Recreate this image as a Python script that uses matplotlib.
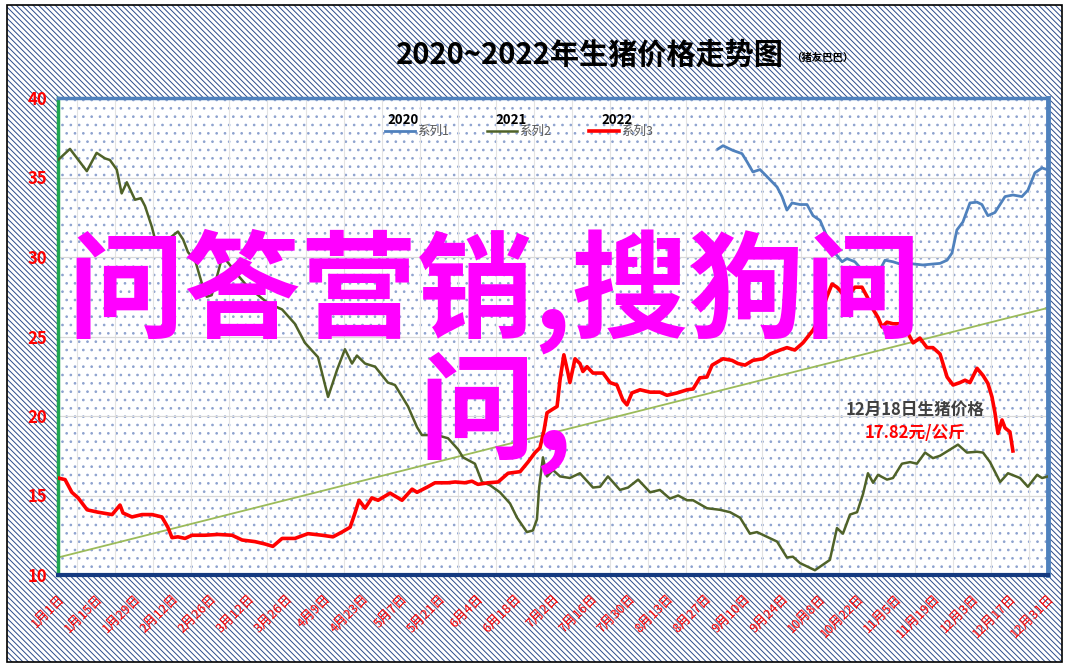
import numpy as np
import matplotlib.pyplot as plt
from matplotlib.patches import Rectangle

plt.rcParams['font.family'] = ['Noto Sans CJK SC', 'DejaVu Sans']
plt.rcParams['hatch.linewidth'] = 0.7

# x = days since 1月1日, y = 生猪价格 (元/公斤)
days_2020 = [242.7, 244.5, 248.2, 251.5, 253.3, 255.5, 258.1, 261.0, 264.4, 266.2, 268.0, 269.9,
             272.8, 275.4, 277.6, 280.2, 282.7, 285.7, 288.3, 290.1, 293.0, 295.6, 298.6, 302.2,
             304.1, 307.0, 310.7, 312.5, 318.0, 324.3, 326.9, 328.7, 330.5, 332.7, 335.3, 337.9,
             339.7, 341.9, 344.5, 348.2, 351.1, 354.4, 356.6, 359.2, 361.8, 363.6]
price_2020 = [36.8, 37.0, 36.7, 36.5, 36.0, 35.35, 35.5, 35.0, 34.4, 33.8, 32.95, 33.4,
              33.3, 33.3, 32.6, 32.3, 31.3, 30.25, 29.7, 29.9, 29.7, 29.2, 29.0, 29.2,
              29.8, 29.7, 29.5, 29.6, 29.5, 29.6, 29.8, 30.25, 31.7, 32.2, 33.4, 33.45,
              33.3, 32.6, 32.8, 33.8, 33.9, 33.8, 34.2, 35.3, 35.6, 35.5]

days_2021 = [0, 4.4, 10.6, 14.2, 17.3, 19.1, 21.6, 23.4, 25.3, 28.3, 30.5, 32.0, 34.5, 35.7,
             40.4, 44.1, 46.0, 47.8, 50.4, 52.8, 54.7, 56.5, 58.8, 60.2, 61.8, 66.9, 69.9, 77.2,
             82.4, 87.1, 90.8, 95.6, 99.3, 102.6, 105.5, 108.1, 109.9, 112.9, 116.6, 121.3,
             123.9, 128.7, 132.0, 133.8, 139.3, 143.4, 147.1, 148.9, 153.3, 155.9, 158.8,
             162.5, 166.2, 168.8, 172.4, 174.6, 176.1, 176.9, 178.3, 179.8, 182.0, 184.6,
             188.2, 191.9, 196.7, 199.3, 202.2, 206.6, 209.6, 213.3, 217.7, 221.3, 225.0,
             228.0, 231.3, 233.5, 238.6, 243.4, 247.1, 250.8, 254.4, 257.0, 260.7, 264.4,
             268.0, 270.2, 272.8, 278.3, 283.8, 286.4, 288.6, 291.2, 293.8, 296.0, 297.8,
             299.7, 301.5, 304.8, 307.0, 310.3, 313.3, 315.8, 318.8, 321.7, 324.3, 330.9,
             334.2, 337.9, 340.1, 342.7, 346.4, 349.3, 353.7, 356.6, 360.0, 361.8, 364.0]
price_2021 = [36.1, 36.8, 35.4, 36.55, 36.2, 36.1, 35.5, 34.0, 34.7, 33.6, 33.7, 33.2, 31.9, 31.1,
              31.1, 31.6, 31.1, 30.3, 29.8, 28.4, 27.5, 27.6, 29.0, 29.9, 29.8, 28.7, 28.1, 27.1,
              26.7, 25.8, 24.6, 23.7, 21.2, 22.9, 24.2, 23.3, 23.8, 23.3, 23.1, 22.1,
              21.95, 20.6, 19.3, 18.8, 18.8, 18.6, 17.9, 17.4, 17.0, 15.85, 15.65,
              15.2, 14.5, 13.6, 12.7, 12.8, 13.5, 15.5, 17.4, 16.2, 16.6, 16.2,
              16.1, 16.4, 15.5, 15.55, 16.2, 15.35, 15.5, 16.0, 15.2, 15.35, 14.8,
              15.0, 14.7, 14.7, 14.2, 14.1, 13.95, 13.6, 12.6, 12.7, 12.4, 12.1,
              11.1, 11.15, 10.75, 10.3, 10.95, 12.95, 12.6, 13.8, 13.95, 15.1, 16.4,
              15.8, 16.3, 16.0, 16.1, 17.0, 17.1, 17.0, 17.7, 17.35, 17.5, 18.2,
              17.7, 17.75, 17.7, 17.1, 15.85, 16.4, 16.1, 15.55, 16.3, 16.1, 16.2]

days_2022 = [0, 2.6, 5.1, 7.4, 10.7, 14.7, 19.9, 22.8, 23.9, 27.2, 30.9, 34.6, 38.2, 40.4,
             41.9, 44.1, 46.7, 49.3, 54.0, 58.8, 64.0, 67.7, 72.4, 76.1, 79.0, 82.4, 87.1,
             91.9, 97.1, 101.1, 104.4, 107.4, 109.2, 110.7, 112.9, 115.4, 117.7, 122.1,
             126.5, 130.2, 132.0, 136.0, 138.6, 143.4, 146.0, 149.6, 152.2, 154.4, 158.1,
             161.8, 165.5, 169.9, 172.8, 175.4, 177.2, 178.7, 179.8, 181.6, 183.5, 184.6,
             186.0, 187.5, 188.2, 190.1, 191.9, 193.0, 194.5, 196.7, 200.4, 203.0, 205.5,
             207.7, 209.2, 211.0, 214.0, 217.7, 221.3, 223.9, 227.6, 231.3, 233.5, 236.0,
             238.6, 240.5, 244.5, 247.8, 250.0, 252.6, 255.5, 259.2, 261.8, 265.5, 268.0,
             270.9, 273.9, 277.6, 280.2, 282.7, 284.6, 286.4, 287.5, 290.1, 291.2, 293.0,
             295.6, 297.5, 299.7, 301.5, 303.0, 304.8, 307.0, 310.7, 312.5, 314.4, 316.9,
             319.5, 321.7, 324.3, 326.9, 329.1, 331.6, 333.5, 335.3, 337.9, 340.1, 341.9,
             343.4, 344.5, 345.6, 347.1, 348.2, 350.0, 351.1]
price_2022 = [16.1, 16.0, 15.2, 14.85, 14.1, 13.95, 13.8, 14.4, 13.9, 13.65, 13.8, 13.8, 13.65, 13.0,
              12.35, 12.4, 12.3, 12.5, 12.5, 12.55, 12.5, 12.2, 12.1, 11.95, 11.8, 12.3, 12.3,
              12.6, 12.5, 12.4, 12.7, 13.0, 13.9, 14.7, 14.2, 14.85, 14.7, 15.15,
              14.7, 15.4, 15.2, 15.55, 15.8, 15.8, 15.85, 15.8, 15.9, 15.7, 15.8,
              15.85, 16.4, 16.5, 17.1, 17.7, 18.0, 19.1, 20.2, 20.4, 20.6, 22.3,
              23.85, 22.7, 22.1, 23.6, 23.3, 22.8, 23.1, 22.7, 22.7, 22.1, 21.95,
              21.0, 20.7, 21.45, 21.65, 21.5, 21.5, 21.3, 21.45, 21.65, 21.7, 22.4,
              22.45, 23.2, 23.6, 23.5, 23.3, 23.2, 23.5, 23.6, 23.9, 24.15, 24.3,
              24.15, 24.6, 25.4, 26.2, 27.5, 28.3, 28.1, 27.9, 27.3, 27.7, 28.1,
              28.1, 27.5, 26.7, 26.2, 25.6, 25.9, 25.8, 25.8, 25.2, 24.6, 24.9,
              24.3, 24.3, 23.9, 22.45, 21.95, 22.1, 22.25, 22.1, 23.0, 22.55, 22.05,
              21.2, 20.2, 18.9, 19.75, 19.25, 19.0, 17.8]

# linear trend line end points
trend_days = [0, 364]
trend_vals = [11.1, 26.8]

tick_days = list(range(0, 365, 14))
tick_labels = ['1月1日', '1月15日', '1月29日', '2月12日', '2月26日', '3月12日', '3月26日',
               '4月9日', '4月23日', '5月7日', '5月21日', '6月4日', '6月18日', '7月2日',
               '7月16日', '7月30日', '8月13日', '8月27日', '9月10日', '9月24日', '10月8日',
               '10月22日', '11月5日', '11月19日', '12月3日', '12月17日', '12月31日']
y_ticks = [10, 15, 20, 25, 30, 35, 40]

series_names = ['系列1', '系列2', '系列3']
years = ['2020', '2021', '2022']
colors = ['#4f81bd', '#4f6228', '#ff0000']

fig = plt.figure(figsize=(10.68, 6.69), dpi=100)
fig.patch.set_facecolor('white')

# hatched chart area background + border
bg = Rectangle((7 / 1068, 7 / 669), 1055 / 1068, 657 / 669, transform=fig.transFigure,
               facecolor='white', edgecolor='#2c4c8c', hatch='\\\\\\\\\\\\', lw=0, zorder=-5)
fig.add_artist(bg)
border = Rectangle((7 / 1068, 7 / 669), 1055 / 1068, 657 / 669, transform=fig.transFigure,
                   facecolor='none', edgecolor='black', lw=1.2, zorder=-4)
fig.add_artist(border)

ax = fig.add_axes([58 / 1068, 94 / 669, 990 / 1068, 477 / 669])
ax.set_facecolor('white')
ax.add_patch(Rectangle((0, 0), 1, 1, transform=ax.transAxes, facecolor='none',
                       edgecolor='#8da2cf', hatch='..', lw=0, zorder=0))

ax.plot(trend_days, trend_vals, color='#9bbb59', lw=1.3, zorder=2)
l1, = ax.plot(days_2020, price_2020, color=colors[0], lw=2.0, zorder=3)
l2, = ax.plot(days_2021, price_2021, color=colors[1], lw=1.8, zorder=3)
l3, = ax.plot(days_2022, price_2022, color=colors[2], lw=2.6, zorder=3)

ax.set_xlim(0, 364)
ax.set_ylim(10, 40)
ax.set_yticks(y_ticks)
ax.set_yticklabels([str(v) for v in y_ticks], color='red', fontsize=12, fontweight='bold')
ax.set_xticks(tick_days)
ax.set_xticklabels(tick_labels, rotation=45, ha='right', va='top', rotation_mode='anchor',
                   color='red', fontsize=9.5, fontweight='medium')
ax.tick_params(axis='both', length=0)
ax.tick_params(axis='y', pad=8)
ax.tick_params(axis='x', pad=12)

ax.set_xticks(list(range(0, 365, 7)), minor=True)
ax.tick_params(axis='x', which='minor', length=0)
ax.grid(axis='y', color='#d9d9d9', lw=0.9)
ax.grid(axis='x', which='minor', color='#e3e3e3', lw=0.8)
ax.set_axisbelow(True)

ax.spines['left'].set_color('#1fa64f')
ax.spines['left'].set_linewidth(2.5)
ax.spines['top'].set_color('#4f81bd')
ax.spines['top'].set_linewidth(2.5)
ax.spines['right'].set_color('#4f81bd')
ax.spines['right'].set_linewidth(3.5)
ax.spines['bottom'].set_color('#143a80')
ax.spines['bottom'].set_linewidth(3)

leg = ax.legend([l1, l2, l3], series_names, loc='upper left', bbox_to_anchor=(0.330, 0.943),
                ncol=3, frameon=False, fontsize=9, handlelength=2.4, handletextpad=0.2,
                columnspacing=3.0, borderpad=0, borderaxespad=0)
for t in leg.get_texts():
    t.set_color('#595959')
for yr, xf in zip(years, [0.349, 0.458, 0.565]):
    ax.text(xf, 0.953, yr, transform=ax.transAxes, ha='center', va='center',
            fontsize=9.5, fontweight='bold', color='black', zorder=6)

# annotation of the last 2022 price
ax.text(315, 20.4, '12月18日生猪价格', ha='center', va='center', fontsize=12,
        fontweight='bold', color='#404040', zorder=6)
ax.text(315, 18.95, '17.82元/公斤', ha='center', va='center', fontsize=12,
        fontweight='bold', color='red', zorder=6)

# title
fig.text(590 / 1068, 1 - 55 / 669, '2020~2022年生猪价格走势图', ha='center', va='center',
         fontsize=21, fontweight='bold', color='black')
fig.text(791 / 1068, 1 - 58 / 669, '（猪友巴巴）', ha='left', va='center',
         fontsize=7.5, fontweight='bold', color='black')

# watermark overlay
fig.text(495 / 1068, 1 - 291 / 669, '问答营销,搜狗问', ha='center', va='center',
         fontsize=84, fontweight='bold', color='#ff00ff', zorder=10)
fig.text(496 / 1068, 1 - 413 / 669, '问,', ha='center', va='center',
         fontsize=84, fontweight='bold', color='#ff00ff', zorder=10)

fig.savefig('out.png', dpi=100)
